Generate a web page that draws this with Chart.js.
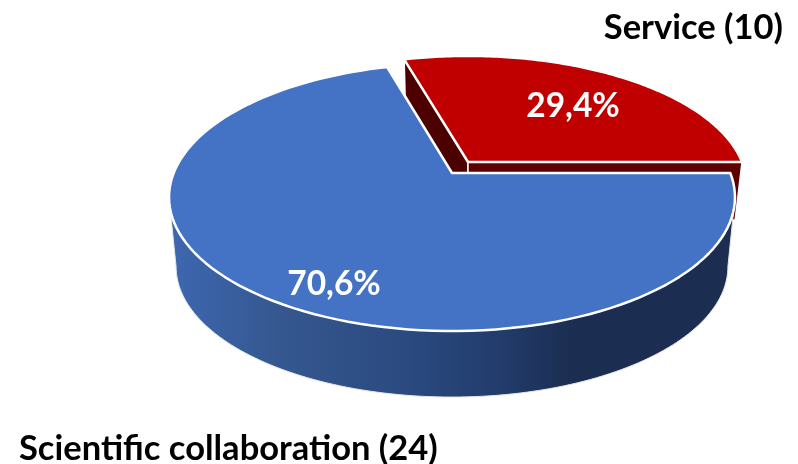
<!DOCTYPE html>
<html>
<head>
<meta charset="utf-8">
<title>Pie</title>
<script src="https://cdn.jsdelivr.net/npm/chart.js@4"></script>
<style>
  html, body { margin: 0; padding: 0; background: #fff; }
  canvas { display: block; }
</style>
</head>
<body>
<canvas id="pie" width="798" height="464"></canvas>
<script>
'use strict';

// data
const categories = ['Scientific collaboration', 'Service'];
const counts = [24, 10];
const sliceColors = ['#4472C4', '#C00000'];
const faceColors = ['#1b2d50', '#4d0000'];

// look of the tilted disc (k = perspective, near side looks bigger)
const k = -0.181;
const baseScale = 0.975;
const discs = [
  { x: 452, y: 173, rx: 278.3, ry: 98.1, depth: 70 },  // blue
  { x: 468, y: 162, rx: 274, ry: 96, depth: 58 }       // red, pulled out of the pie
];
const fontName = 'Lato, "Open Sans", sans-serif';

// where a point of the flat pie lands on screen. angle comes from the arc element
function project(d, t, r) {
  const X = Math.cos(t) * r, Y = Math.sin(t) * r;
  const w = 1 + k * Y;
  return { x: d.x + d.rx * X / w, y: (d.y + d.ry * Y) / w };
}
function toBase(d, p) {
  return { x: d.x + (p.x - d.x) * baseScale, y: d.y + (p.y - d.y) * baseScale + d.depth };
}
function trace(ctx, d, from, to, base, first) {
  const n = 120;
  for (let i = 0; i <= n; i++) {
    const t = from + (to - from) * i / n;
    let p = project(d, t, 1);
    if (base) p = toBase(d, p);
    if (i === 0 && first) ctx.moveTo(p.x, p.y); else ctx.lineTo(p.x, p.y);
  }
}

// cut face of a slice: straight wall going from the centre out to the rim
function drawFace(ctx, d, t, color) {
  const a = project(d, t, 0), b = project(d, t, 1);
  const a2 = toBase(d, a), b2 = toBase(d, b);
  ctx.beginPath();
  ctx.moveTo(a.x, a.y); ctx.lineTo(b.x, b.y); ctx.lineTo(b2.x, b2.y); ctx.lineTo(a2.x, a2.y);
  ctx.closePath();
  ctx.fillStyle = color;
  ctx.fill();
  ctx.strokeStyle = '#fff';
  ctx.lineWidth = 1.5;
  ctx.stroke();
}

function drawTop(ctx, d, arc, color) {
  const c = project(d, 0, 0);
  ctx.beginPath();
  ctx.moveTo(c.x, c.y);
  trace(ctx, d, arc.startAngle, arc.endAngle, false, false);
  ctx.closePath();
  ctx.fillStyle = color;
  ctx.fill();
  ctx.strokeStyle = '#fff';
  ctx.lineWidth = 2.5;
  ctx.lineJoin = 'round';
  ctx.stroke();
}

// the round outside wall, only the part that faces us
function drawWall(ctx, d, arc) {
  const from = Math.max(arc.startAngle, 0.182);
  const to = Math.min(arc.endAngle, Math.PI - 0.182);
  const g = ctx.createLinearGradient(170, 0, 735, 0);
  g.addColorStop(0, '#3d67b0');
  g.addColorStop(0.2, '#35578f');
  g.addColorStop(0.42, '#2a4a80');
  g.addColorStop(0.58, '#223c6c');
  g.addColorStop(0.72, '#1b2d50');
  g.addColorStop(1, '#1b2d50');
  ctx.beginPath();
  trace(ctx, d, from, to, false, true);
  trace(ctx, d, to, from, true, false);
  ctx.closePath();
  ctx.fillStyle = g;
  ctx.fill();
  ctx.strokeStyle = '#e4e4e4';
  ctx.lineWidth = 1;
  ctx.stroke();
}

const pie3d = {
  id: 'pie3d',
  beforeDatasetsDraw(chart) {
    const ctx = chart.ctx;
    const arcs = chart.getDatasetMeta(0).data;
    ctx.save();
    // red goes first, blue sits in front of it
    drawFace(ctx, discs[1], arcs[1].startAngle, faceColors[1]);
    drawFace(ctx, discs[1], arcs[1].endAngle, '#5c0000');
    drawTop(ctx, discs[1], arcs[1], sliceColors[1]);
    drawWall(ctx, discs[0], arcs[0]);
    drawTop(ctx, discs[0], arcs[0], sliceColors[0]);
    ctx.restore();
    return false; // flat arcs are not wanted
  },
  afterDraw(chart) {
    const ctx = chart.ctx;
    const total = counts.reduce((a, b) => a + b, 0);
    const pct = counts.map(v => (v / total * 100).toFixed(1).replace('.', ',') + '%');
    ctx.save();
    ctx.textBaseline = 'middle';
    ctx.font = 'bold 33.5px ' + fontName;
    ctx.fillStyle = '#fff';
    ctx.textAlign = 'center';
    ctx.fillText(pct[0], 334, 284);
    ctx.fillText(pct[1], 573, 106);
    ctx.font = 'bold 34.5px ' + fontName;
    ctx.fillStyle = '#000';
    ctx.textAlign = 'right';
    ctx.fillText(categories[1] + ' (' + counts[1] + ')', 783, 28);
    ctx.textAlign = 'left';
    ctx.fillText(categories[0] + ' (' + counts[0] + ')', 19, 449);
    ctx.restore();
  }
};

const chart = new Chart(document.getElementById('pie'), {
  type: 'pie',
  data: {
    labels: categories,
    datasets: [{ data: counts, backgroundColor: sliceColors }]
  },
  options: {
    responsive: false,
    animation: false,
    rotation: 90, // first slice starts at 3 o'clock
    plugins: { legend: { display: false }, tooltip: { enabled: false } }
  },
  plugins: [pie3d]
});
</script>
</body>
</html>
